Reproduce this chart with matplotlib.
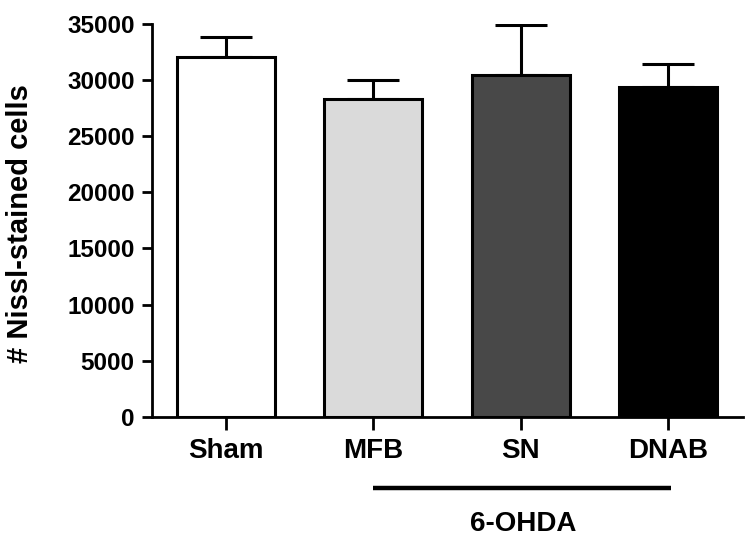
import matplotlib
matplotlib.use("Agg")
import matplotlib.pyplot as plt
import matplotlib.transforms as mtransforms

categories = ["Sham", "MFB", "SN", "DNAB"]
means = [32050, 28300, 30500, 29400]
sems = [1780, 1690, 4420, 2080]
colors = ["#ffffff", "#dadada", "#484848", "#000000"]
yticks = [0, 5000, 10000, 15000, 20000, 25000, 30000, 35000]
group_label = "6-OHDA"
group_members = ["MFB", "DNAB"]
ylabel = "# Nissl-stained cells"

plt.rcParams['font.family'] = ['Liberation Sans', 'DejaVu Sans']
plt.rcParams['font.weight'] = 'bold'

fig = plt.figure(figsize=(7.5, 5.47), dpi=100)
ax = fig.add_axes([0.2027, 0.2382, 0.7880, 0.7179])

x = list(range(len(categories)))
ax.bar(x, means, width=0.665, color=colors, edgecolor="black", linewidth=2.2, zorder=2)
ax.errorbar(x, means, yerr=[[0]*len(sems), sems], fmt="none", ecolor="black",
            elinewidth=2.2, capsize=18.5, capthick=2.2, zorder=1)

ax.set_xlim(-0.502, 3.51)
ax.set_ylim(0, 35000)
ax.set_yticks(yticks)
ax.set_yticklabels([str(v) for v in yticks], fontsize=17.5, fontweight='bold')
ax.set_xticks(x)
ax.set_xticklabels(categories, fontsize=20, fontweight='bold')

for s in ["top", "right"]:
    ax.spines[s].set_visible(False)
for s in ["left", "bottom"]:
    ax.spines[s].set_linewidth(2.0)
ax.tick_params(axis='y', direction='out', length=7.5, width=2.0, pad=5)
ax.tick_params(axis='x', direction='out', length=9, width=2.0, pad=6)

fig.text(20 / 750, 1 - 224 / 547, ylabel, rotation=90, ha='center', va='center',
         fontsize=21, fontweight='bold')

trans = mtransforms.blended_transform_factory(ax.transData, ax.transAxes)
i0 = categories.index(group_members[0])
i1 = categories.index(group_members[1])
ax.plot([i0, i1 + 0.02], [-0.1816, -0.1816], color="black", linewidth=3.2,
        transform=trans, clip_on=False, solid_capstyle='butt')
ax.text((i0 + i1) / 2 + 0.02, -0.273, group_label, transform=trans, ha='center', va='center',
        fontsize=20, fontweight='bold')

fig.savefig("out.png", dpi=100)
